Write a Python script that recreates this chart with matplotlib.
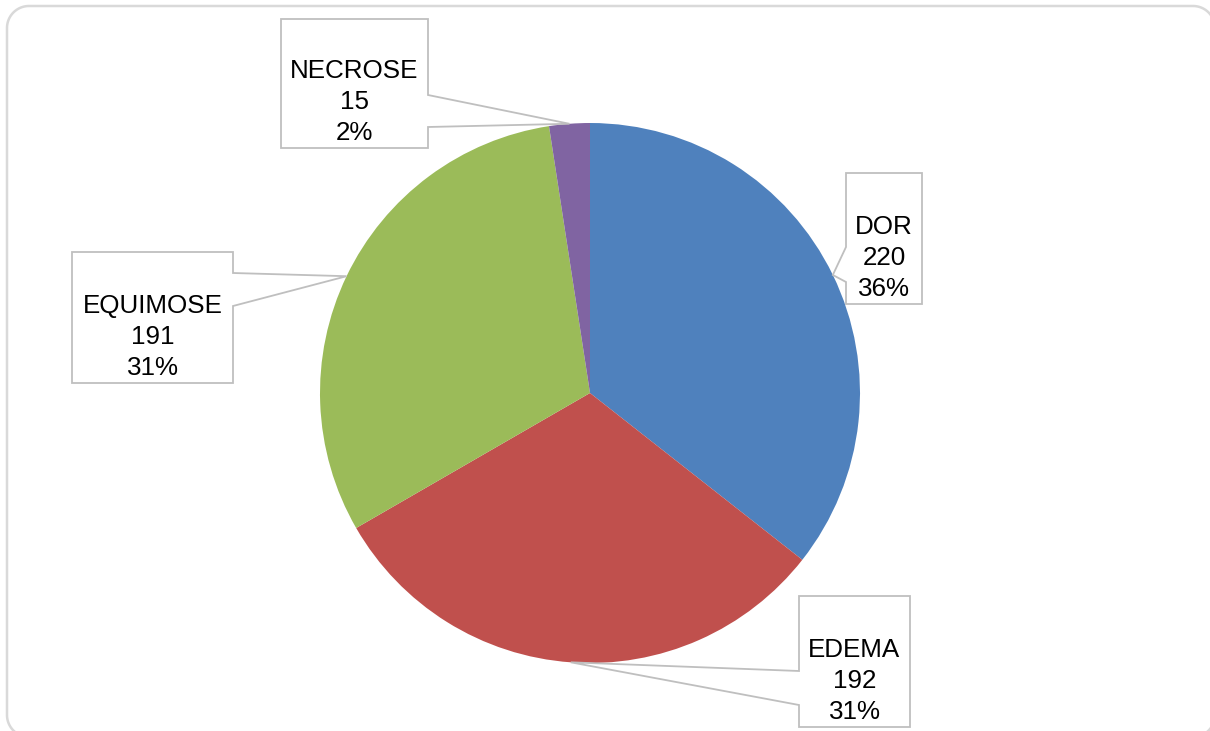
import numpy as np
import matplotlib
matplotlib.use("Agg")
import matplotlib.pyplot as plt
from matplotlib.patches import Polygon

# ---- data ----
categories = ["DOR", "EDEMA", "EQUIMOSE", "NECROSE"]
values = [220, 192, 191, 15]
colors = ["#4F81BD", "#C0504D", "#9BBB59", "#8064A2"]

# ---- layout (pixel coords, origin top-left) ----
W, H = 1210, 731
center_px = (590, 393)
radius_px = 270
# callout boxes: left, top, width, height, pointer side, pointer base y0, y1 (offset from top)
boxes = {
    "DOR": (846, 173, 76, 131, "left", 74, 109),
    "EDEMA": (799, 596, 111, 131, "left", 75, 109),
    "EQUIMOSE": (72, 252, 161, 131, "right", 21, 54),
    "NECROSE": (281, 19, 147, 129, "right", 76, 108),
}

plt.rcParams["font.family"] = ["Liberation Sans", "DejaVu Sans"]
fig = plt.figure(figsize=(W / 100, H / 100), dpi=100)
ax = fig.add_axes([0, 0, 1, 1])

def Y(y):
    return H - y

wedges, _ = ax.pie(values, colors=colors, startangle=90, counterclock=False,
                   center=(center_px[0], Y(center_px[1])), radius=radius_px,
                   wedgeprops=dict(linewidth=0))
ax.set_xlim(0, W)
ax.set_ylim(0, H)
ax.set_aspect("equal")
ax.axis("off")

# outer rounded border: only top edge, left edge and corners are within view
bl, bt, br, bb, rr = 7, 6, 1215, 737, 22
def arc(cx, cy, a0, a1, n=30):
    a = np.deg2rad(np.linspace(a0, a1, n))
    return list(zip(cx + rr * np.cos(a), cy + rr * np.sin(a)))
# pixel coords, y down; angles measured with y down
pts = []
pts += arc(br - rr, bb - rr, 20, 90)[::-1][::-1]  # bottom-right corner
pts = arc(br - rr, bb - rr, 0, 90)[::-1]  # from right edge? (start at bottom-right)
path_pts = []
path_pts += arc(br - rr, bb - rr, 0, 90)           # bottom-right corner
path_pts += arc(bl + rr, bb - rr, 90, 180)         # bottom-left corner
path_pts += arc(bl + rr, bt + rr, 180, 270)        # top-left corner
path_pts += arc(br - rr, bt + rr, 270, 360)        # top-right corner
xs = [p[0] for p in path_pts]
ys = [Y(p[1]) for p in path_pts]
ax.plot(xs, ys, color="#D9D9D9", lw=1.8, zorder=0, solid_capstyle="butt")

total = sum(values)
for cat, val, w in zip(categories, values, wedges):
    mid = np.deg2rad((w.theta1 + w.theta2) / 2)
    tipx = w.center[0] + w.r * np.cos(mid)
    tipy = w.center[1] + w.r * np.sin(mid)
    l, t, bw, bh, side, o0, o1 = boxes[cat]
    r, b = l + bw, t + bh
    pts = [(l, t), (r, t)]
    if side == "right":
        pts += [(r, t + o0), None, (r, t + o1)]
    pts += [(r, b), (l, b)]
    if side == "left":
        pts += [(l, t + o1), None, (l, t + o0)]
    verts = []
    for p in pts:
        if p is None:
            verts.append((tipx, tipy))
        else:
            verts.append((p[0], Y(p[1])))
    ax.add_patch(Polygon(verts, closed=True, facecolor="white", edgecolor="#BFBFBF",
                         linewidth=1.3, zorder=3))
    pct = f"{round(val / total * 100):.0f}%"
    lines = [cat, str(val), pct]
    cx = l + bw / 2
    for k, txt in enumerate(lines):
        base = b - 8 - 31 * (2 - k)
        ax.text(cx, Y(base), txt, ha="center", va="baseline", fontsize=18.7,
                color="black", zorder=4)

fig.savefig("out.png", dpi=100, facecolor="white")
